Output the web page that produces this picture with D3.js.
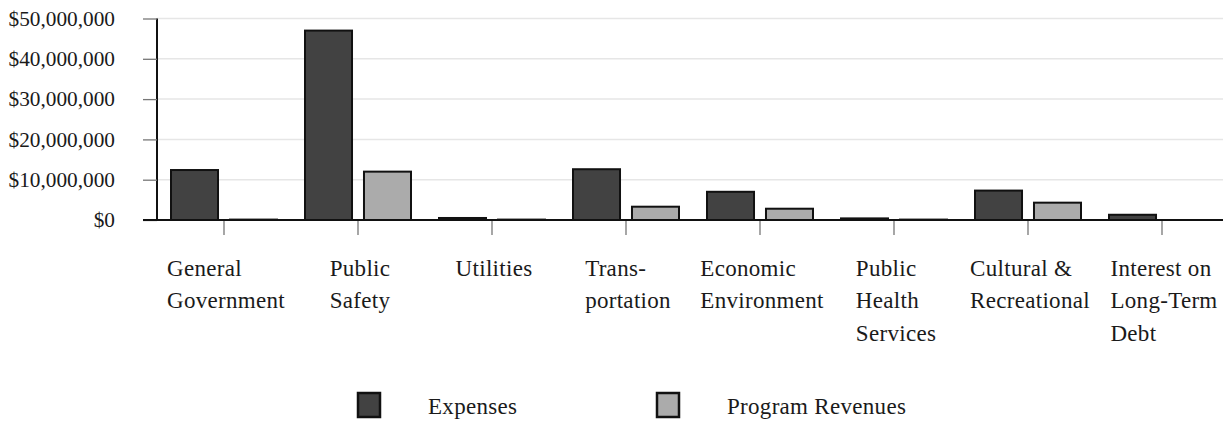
<!DOCTYPE html>
<html>
<head>
<meta charset="utf-8">
<script src="https://cdn.jsdelivr.net/npm/d3@7"></script>
<style>
  html, body { margin: 0; padding: 0; background: #fff; }
  svg { display: block; }
  text { font-family: "Liberation Serif", "Times New Roman", serif; fill: #1a1a1a; }
  .cat, .leg { font-size: 23px; letter-spacing: 0.3px; }
</style>
</head>
<body>
<svg id="chart" width="1223" height="423"></svg>
<script>
// Expenses and program revenues by governmental function
const categories = [
  ["General", "Government"],
  ["Public", "Safety"],
  ["Utilities"],
  ["Trans-", "portation"],
  ["Economic", "Environment"],
  ["Public", "Health", "Services"],
  ["Cultural &", "Recreational"],
  ["Interest on", "Long-Term", "Debt"]
];
const categoryKeys = categories.map(c => c.join(" "));
const seriesNames = ["Expenses", "Program Revenues"];
const expenses        = [12400000, 47000000, 500000, 12600000, 7000000, 400000, 7300000, 1300000];
const programRevenues = [  100000, 12000000, 100000,  3300000, 2800000, 100000, 4300000,       0];
const yTicks = [0, 10000000, 20000000, 30000000, 40000000, 50000000];

const colors = { "Expenses": "#424242", "Program Revenues": "#ababab" };

const svg = d3.select("#chart");
const plotLeft = 157, plotTop = 18.5, plotBottom = 220, step = 134;

const x0 = d3.scaleBand()
  .domain(categoryKeys)
  .range([plotLeft, plotLeft + step * categoryKeys.length]);
const center = k => x0(k) + x0.bandwidth() / 2;

const x1 = d3.scaleBand()
  .domain(seriesNames)
  .range([14, 120])
  .paddingInner(0.203);

const y = d3.scaleLinear().domain([0, 50000000]).range([plotBottom, plotTop]);

const fmt = v => "$" + d3.format(",")(v);

// gridlines
svg.append("g")
  .selectAll("line")
  .data(yTicks.filter(t => t > 0))
  .join("line")
  .attr("x1", plotLeft).attr("x2", 1223)
  .attr("y1", d => y(d)).attr("y2", d => y(d))
  .attr("stroke", "#e6e6e6").attr("stroke-width", 1.5);

// y axis
const yAxis = svg.append("g")
  .attr("transform", `translate(${plotLeft},0)`)
  .call(d3.axisLeft(y).tickValues(yTicks).tickFormat(fmt).tickSize(14).tickPadding(28));
yAxis.select(".domain").attr("stroke", "#111").attr("stroke-width", 2)
  .attr("d", `M0,${plotTop}V${plotBottom}`);
yAxis.selectAll(".tick line").attr("stroke", "#777").attr("stroke-width", 1.3);
yAxis.selectAll(".tick text")
  .style("font-family", '"Liberation Serif", serif')
  .style("font-size", "21.3px").attr("fill", "#1a1a1a");

// bars
const rows = categoryKeys.map((k, i) => ({
  key: k,
  values: [
    { name: "Expenses", value: expenses[i] },
    { name: "Program Revenues", value: programRevenues[i] }
  ]
}));

const groups = svg.append("g")
  .selectAll("g")
  .data(rows)
  .join("g")
  .attr("transform", d => `translate(${x0(d.key)},0)`);

groups.selectAll("rect")
  .data(d => d.values)
  .join("rect")
  .attr("x", d => x1(d.name))
  .attr("width", x1.bandwidth())
  .attr("y", d => y(d.value))
  .attr("height", d => y(0) - y(d.value))
  .attr("fill", d => colors[d.name])
  .attr("stroke", "#111")
  .attr("stroke-width", 2);

// x axis baseline and category ticks
svg.append("line")
  .attr("x1", 143).attr("x2", 1223)
  .attr("y1", plotBottom).attr("y2", plotBottom)
  .attr("stroke", "#111").attr("stroke-width", 2);

svg.append("g")
  .selectAll("line")
  .data(categoryKeys)
  .join("line")
  .attr("x1", center).attr("x2", center)
  .attr("y1", plotBottom + 1).attr("y2", plotBottom + 15)
  .attr("stroke", "#777").attr("stroke-width", 1.3);

// category labels: left-aligned lines, block centred under its tick
const labels = svg.append("g")
  .selectAll("text")
  .data(categories)
  .join("text")
  .attr("class", "cat")
  .attr("y", 276);
labels.selectAll("tspan")
  .data(d => d)
  .join("tspan")
  .attr("dy", (d, j) => j === 0 ? 0 : 32.3)
  .text(d => d);
labels.each(function (d, i) {
  const spans = d3.select(this).selectAll("tspan");
  let w = 0;
  spans.each(function () { w = Math.max(w, this.getComputedTextLength()); });
  spans.attr("x", center(categoryKeys[i]) - w / 2 + 2);
});

// legend
const legendPos = [358, 657];
const legend = svg.append("g")
  .selectAll("g")
  .data(seriesNames)
  .join("g")
  .attr("transform", (d, i) => `translate(${legendPos[i]},393)`);
legend.append("rect")
  .attr("width", 22).attr("height", 24)
  .attr("fill", d => colors[d])
  .attr("stroke", "#111").attr("stroke-width", 2.5);
legend.append("text")
  .attr("class", "leg")
  .attr("x", 70).attr("y", 21)
  .text(d => d);
</script>
</body>
</html>
